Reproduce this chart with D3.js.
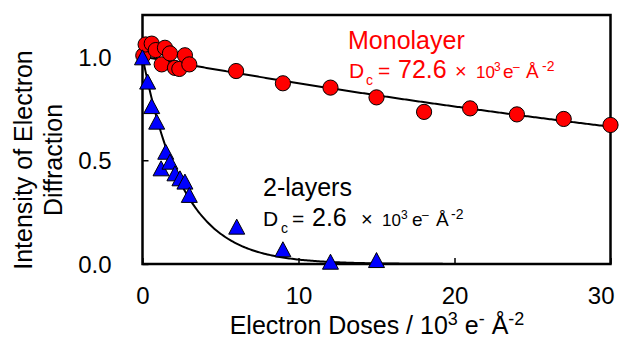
<!DOCTYPE html>
<html><head><meta charset="utf-8">
<script src="https://cdn.jsdelivr.net/npm/d3@7"></script>
<style>body{margin:0;background:#fff}svg{display:block;font-family:"Liberation Sans",Arial,sans-serif}</style>
</head><body><svg width="620" height="338"></svg>
<script>
// Monolayer (red circles)
const monoX = [0.05,0.2,0.59,0.85,1.23,1.44,1.76,2.08,2.36,2.72,3.0,6.0,9.0,12.05,15.0,18.05,21.0,24.0,27.0,30.0];
const monoY = [1.005,1.058,1.062,1.031,0.962,1.042,1.015,0.945,0.94,1.006,0.962,0.93,0.871,0.85,0.803,0.733,0.75,0.721,0.699,0.67];
// 2-layers (blue triangles)
const bilX = [0.0,0.33,0.59,0.91,1.19,1.49,1.76,2.08,2.4,2.72,3.0,6.04,9.0,12.05,15.0];
const bilY = [0.996,0.879,0.761,0.686,0.461,0.541,0.493,0.437,0.413,0.397,0.333,0.18,0.071,0.011,0.019];
// Fitted critical doses (exp(-D/Dc))
const monoDc = 72.6, bilDc = 2.6;
const xTicks = [0,10,20,30];
const yTicks = [0,0.5,1.0];

const svg = d3.select("svg");
const FF = "Liberation Sans, Arial, sans-serif";
const L=142.5, R=610.5, T=15, B=264;
const x = d3.scaleLinear().domain([0,30]).range([L,R]);
const y = d3.scaleLinear().domain([0,1.2]).range([B,T]);

// axes
const xa = svg.append("g").attr("transform",`translate(0,${B})`)
  .call(d3.axisBottom(x).tickValues(xTicks).tickSizeInner(-6).tickSizeOuter(0).tickPadding(23).tickFormat(d3.format("d")));
const ya = svg.append("g").attr("transform",`translate(${L},0)`)
  .call(d3.axisLeft(y).tickValues(yTicks).tickSizeInner(-6).tickSizeOuter(0).tickPadding(31).tickFormat(d3.format(".1f")));
[xa,ya].forEach(g=>{
  g.attr("font-family",FF);
  g.select(".domain").remove();
  g.selectAll(".tick line").attr("stroke","#000").attr("stroke-width",1.5);
  g.selectAll(".tick text").attr("font-size",24).attr("fill","#000");
});
ya.selectAll(".tick text").attr("dy","0.36em");
xa.selectAll(".tick text").filter(d=>d===30).attr("text-anchor","end").attr("x",3.5);

// frame
svg.append("rect").attr("x",L).attr("y",T).attr("width",R-L).attr("height",B-T)
  .attr("fill","none").attr("stroke","#000").attr("stroke-width",2.5);

svg.append("clipPath").attr("id","c").append("rect").attr("x",L).attr("y",T-10).attr("width",R-L).attr("height",B-T+10);

// fit curves
const xs = d3.range(0,30.01,0.1);
const line = d3.line().x(d=>x(d[0])).y(d=>y(d[1]));
svg.append("path").datum(xs.map(v=>[v,Math.exp(-v/monoDc)])).attr("d",line)
  .attr("fill","none").attr("stroke","#000").attr("stroke-width",2).attr("clip-path","url(#c)");
svg.append("path").datum(xs.map(v=>[v,Math.exp(-v/bilDc)])).attr("d",line)
  .attr("fill","none").attr("stroke","#000").attr("stroke-width",2).attr("clip-path","url(#c)");

// markers
svg.append("g").selectAll("circle").data(monoX.map((v,i)=>[v,monoY[i]])).join("circle")
  .attr("cx",d=>x(d[0])).attr("cy",d=>y(d[1])).attr("r",7.6)
  .attr("fill","#ff0000").attr("stroke","#000").attr("stroke-width",1);
const tw=8, th=7.5;
svg.append("g").selectAll("path").data(bilX.map((v,i)=>[v,bilY[i]])).join("path")
  .attr("d",d=>{const cx=x(d[0]), cy=y(d[1]); return `M${cx},${cy-th}L${cx+tw},${cy+th}L${cx-tw},${cy+th}Z`;})
  .attr("fill","#0000ff").attr("stroke","#000").attr("stroke-width",1);

// axis titles
svg.append("text").attr("x",377).attr("y",334).attr("text-anchor","middle").attr("font-size",25).attr("fill","#000")
  .call(t=>{
    t.append("tspan").text("Electron Doses / 10");
    t.append("tspan").attr("dy",-9).attr("font-size",18).text("3");
    t.append("tspan").attr("dy",9).text(" e");
    t.append("tspan").attr("dy",-9).attr("font-size",18).text("-");
    t.append("tspan").attr("dy",9).text(" Å");
    t.append("tspan").attr("dy",-9).attr("font-size",18).text("-2");
  });
const yt = svg.append("text").attr("transform","translate(0,160) rotate(-90)").attr("text-anchor","middle").attr("font-size",25).attr("fill","#000");
yt.append("tspan").attr("x",0).attr("y",32).text("Intensity of Electron");
yt.append("tspan").attr("x",0).attr("y",62).text("Diffraction");

// annotations
function dcLine(base, val, color, pos){
  const t = svg.append("text").attr("y",base).attr("fill",color);
  const parts = [
    ["D",21,0],["c",14,7],["=",21,0],[val,25,0],["×",20,0],["10",17,0],["3",12,-7],["e",19,0],["–",12,-7],["Å",19,0],["-2",14,-7]
  ];
  parts.forEach((p,i)=>{
    t.append("tspan").attr("x",pos[i]).attr("y",base+p[2]).attr("font-size",p[1]).text(p[0]);
  });
}
svg.append("text").attr("x",348).attr("y",49).attr("font-size",25).attr("fill","#ff0000").text("Monolayer");
dcLine(78,"72.6","#ff0000",[349,366,378,398,455,476,494,503,513,526,542]);
svg.append("text").attr("x",263).attr("y",196).attr("font-size",25).attr("fill","#000").text("2-layers");
dcLine(226,"2.6","#000",[263,281,292,312,361,382,401,412,422,436,451]);
</script></body></html>
